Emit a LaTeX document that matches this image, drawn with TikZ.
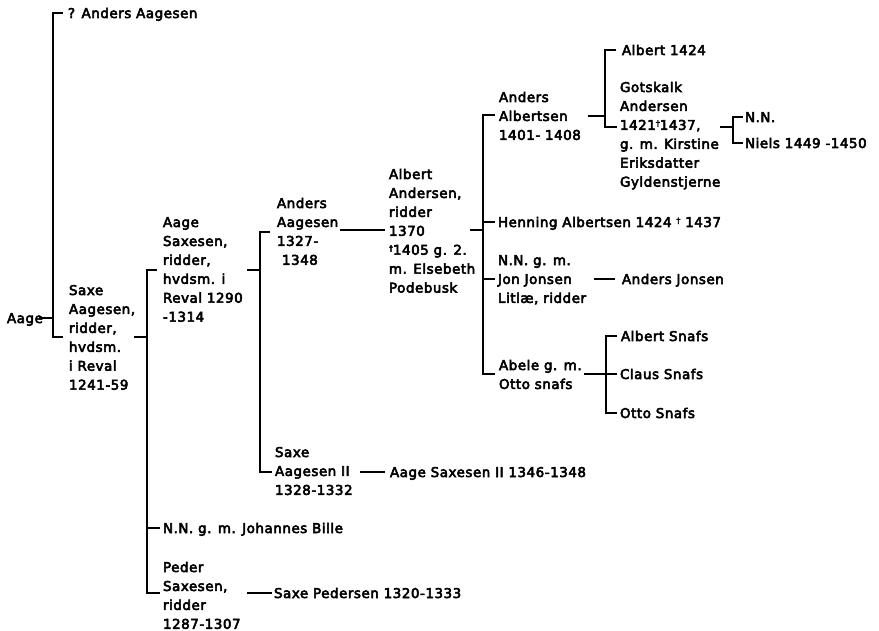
\documentclass[tikz,border=0pt]{standalone}
\usepackage{fontspec}
\newfontfamily\plot{DejaVu Sans}[FakeBold=4,LetterSpace=4]
\newcommand\tl[1]{\begin{tabular}[t]{@{}l@{}}#1\end{tabular}}
\newcommand\dg{\raisebox{0.5ex}{\fontsize{8}{8}\selectfont †}}
\begin{document}
\begin{tikzpicture}[x=1bp,y=-1bp,
  txt/.style={anchor=base west,inner sep=0pt,outer sep=0pt,font=\plot\fontsize{13.5}{19}\selectfont},
  link/.style={line width=2bp,line cap=butt,line join=miter}]
\fill[white] (0,0) rectangle (879,631);
\useasboundingbox (0,0) rectangle (879,631);
% text nodes
\node[txt] (aage) at (7,323) {Aage};
\node[txt] (anders0) at (68,18) {? Anders Aagesen};
\node[txt] (saxe) at (69,295) {\tl{Saxe\\Aagesen,\\ridder,\\hvdsm.\\i Reval\\1241-59}};
\node[txt] (aagesax) at (163,227) {\tl{Aage\\Saxesen,\\ridder,\\hvdsm. i\\Reval 1290\\-1314}};
\node[txt] (andaag) at (277,208) {\tl{Anders\\Aagesen\\1327-\\\hspace{5bp}1348}};
\node[txt] (albert) at (389,179) {\tl{Albert\\Andersen,\\ridder\\1370\\\dg1405 g. 2.\\m. Elsebeth\\Podebusk}};
\node[txt] (andalb) at (499,102) {\tl{Anders\\Albertsen\\1401- 1408}};
\node[txt] (alb1424) at (622,55) {Albert 1424};
\node[txt] (gotsk) at (620,92) {\tl{Gotskalk\\Andersen\\1421\dg1437,\\g. m. Kirstine\\Eriksdatter\\Gyldenstjerne}};
\node[txt] (nn1) at (745,122) {N.N.};
\node[txt] (niels) at (745,148) {Niels 1449 -1450};
\node[txt] (henning) at (498,227) {Henning Albertsen 1424 \dg\ 1437};
\node[txt] (nn2) at (498,265) {\tl{N.N. g. m.\\Jon Jonsen\\Litlæ, ridder}};
\node[txt] (andjon) at (622,284) {Anders Jonsen};
\node[txt] (abele) at (499,370) {\tl{Abele g. m.\\Otto snafs}};
\node[txt] (albsn) at (621,341) {Albert Snafs};
\node[txt] (claus) at (620,379) {Claus Snafs};
\node[txt] (otto) at (620,418) {Otto Snafs};
\node[txt] (saxeII) at (275,457) {\tl{Saxe\\Aagesen II\\1328-1332}};
\node[txt] (aagesaxII) at (390,477) {Aage Saxesen II 1346-1348};
\node[txt] (nnjb) at (163,533) {N.N. g. m. Johannes Bille};
\node[txt] (peder) at (163,572) {\tl{Peder\\Saxesen,\\ridder\\1287-1307}};
\node[txt] (saxeped) at (274,598) {Saxe Pedersen 1320-1333};
% junction coordinates
\coordinate (aageR) at (39,318);   \coordinate (b0m) at (53,318);
\coordinate (b0tt) at (63,13);     \coordinate (b0t) at (53,13);
\coordinate (b0b) at (53,337);     \coordinate (b0bt) at (63,337);
\coordinate (saxeR) at (134,337);  \coordinate (b1m) at (147,337);
\coordinate (b1tt) at (157,270);   \coordinate (b1t) at (147,270);
\coordinate (b1b) at (147,593);    \coordinate (b1bt) at (160,593);
\coordinate (b1n) at (147,528);    \coordinate (b1nt) at (160,528);
\coordinate (aagesaxR) at (247,270); \coordinate (b2m) at (260,270);
\coordinate (b2tt) at (270,232);   \coordinate (b2t) at (260,232);
\coordinate (b2b) at (260,472);    \coordinate (b2bt) at (272,472);
\coordinate (andaagR) at (340,230); \coordinate (albertL) at (385,230);
\coordinate (albertR) at (470,230); \coordinate (b3m) at (483,230);
\coordinate (b3tt) at (495,115);   \coordinate (b3t) at (483,115);
\coordinate (b3b) at (483,374);    \coordinate (b3bt) at (495,374);
\coordinate (b3h) at (483,222);    \coordinate (b3ht) at (495,222);
\coordinate (b3n) at (483,279);    \coordinate (b3nt) at (495,279);
\coordinate (andalbR) at (588,116); \coordinate (b4m) at (605,116);
\coordinate (b4tt) at (616,50);    \coordinate (b4t) at (605,50);
\coordinate (b4b) at (605,127);    \coordinate (b4bt) at (617,127);
\coordinate (gotskR) at (720,127); \coordinate (b5m) at (733,127);
\coordinate (b5tt) at (743,117);   \coordinate (b5t) at (733,117);
\coordinate (b5b) at (733,143);    \coordinate (b5bt) at (743,143);
\coordinate (nn2R) at (594,279);   \coordinate (andjonL) at (615,279);
\coordinate (abeleR) at (584,374); \coordinate (b6m) at (606,374);
\coordinate (b6tt) at (617,336);   \coordinate (b6t) at (606,336);
\coordinate (b6b) at (606,413);    \coordinate (b6bt) at (617,413);
\coordinate (b6mt) at (617,374);
\coordinate (saxeIIR) at (360,472); \coordinate (aagesaxIIL) at (385,472);
\coordinate (pederR) at (247,593); \coordinate (saxepedL) at (272,593);
% connectors
\draw[link] (aageR) -- (b0m);
\draw[link] (b0tt) -- (b0t) -- (b0b) -- (b0bt);
\draw[link] (saxeR) -- (b1m);
\draw[link] (b1tt) -- (b1t) -- (b1b) -- (b1bt);
\draw[link] (b1n) -- (b1nt);
\draw[link] (aagesaxR) -- (b2m);
\draw[link] (b2tt) -- (b2t) -- (b2b) -- (b2bt);
\draw[link] (andaagR) -- (albertL);
\draw[link] (albertR) -- (b3m);
\draw[link] (b3tt) -- (b3t) -- (b3b) -- (b3bt);
\draw[link] (b3h) -- (b3ht);
\draw[link] (b3n) -- (b3nt);
\draw[link] (andalbR) -- (b4m);
\draw[link] (b4tt) -- (b4t) -- (b4b) -- (b4bt);
\draw[link] (gotskR) -- (b5m);
\draw[link] (b5tt) -- (b5t) -- (b5b) -- (b5bt);
\draw[link] (nn2R) -- (andjonL);
\draw[link] (abeleR) -- (b6m);
\draw[link] (b6tt) -- (b6t) -- (b6b) -- (b6bt);
\draw[link] (b6m) -- (b6mt);
\draw[link] (saxeIIR) -- (aagesaxIIL);
\draw[link] (pederR) -- (saxepedL);
\end{tikzpicture}
\end{document}
